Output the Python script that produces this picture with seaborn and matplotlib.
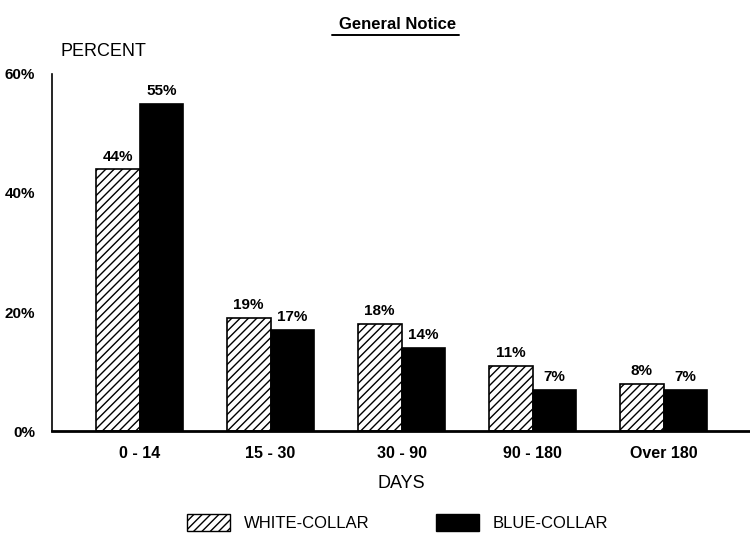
import pandas as pd
import seaborn as sns
import matplotlib.pyplot as plt
from matplotlib.patches import Patch

# Values
days = ['0 - 14', '15 - 30', '30 - 90', '90 - 180', 'Over 180']
white_collar = [44, 19, 18, 11, 8]
blue_collar = [55, 17, 14, 7, 7]
groups = ['WHITE-COLLAR', 'BLUE-COLLAR']

dataframe = pd.DataFrame({
    'Days': days * 2,
    'Group': [groups[0]] * len(days) + [groups[1]] * len(days),
    'Percent': white_collar + blue_collar,
})

sns.set_theme(style="white")
plt.rcParams['font.family'] = ['Liberation Sans', 'DejaVu Sans']
plt.rcParams['text.color'] = 'black'
plt.rcParams['xtick.color'] = 'black'
plt.rcParams['ytick.color'] = 'black'
plt.rcParams['axes.labelcolor'] = 'black'

fig = plt.figure(figsize=(7.5, 5.39), dpi=100)
ax = fig.add_axes([0.069, 0.2, 0.931, 0.663])

sns.barplot(x='Days', y='Percent', hue='Group', data=dataframe, ax=ax,
            palette={groups[0]: 'white', groups[1]: 'black'},
            edgecolor='black', linewidth=1.2, width=0.67, legend=False)

for bar in ax.containers[0]:
    bar.set_hatch('////')
for container in ax.containers:
    ax.bar_label(container, fmt='%d%%', padding=4, fontsize=11, fontweight='bold')

ax.set_xlim(-0.67, 4.66)
ax.set_ylim(0, 60)
ax.set_yticks([0, 20, 40, 60])
ax.set_yticklabels(['0%', '20%', '40%', '60%'], fontsize=11, fontweight='bold')
ax.tick_params(axis='x', labelsize=11.5, pad=5)
ax.tick_params(axis='y', pad=6)
for lab in ax.get_xticklabels():
    lab.set_fontweight('bold')
ax.set_xlabel('DAYS', fontsize=13, labelpad=10)
ax.set_ylabel('')
sns.despine(ax=ax)
ax.spines['left'].set_color('black')
ax.spines['left'].set_linewidth(1.2)
ax.spines['bottom'].set_color('black')
ax.spines['bottom'].set_linewidth(2)

ax.text(0.012, 1.04, 'PERCENT', transform=ax.transAxes, fontsize=13, ha='left', va='bottom')
fig.text(0.53, 0.955, 'General Notice', ha='center', va='center', fontsize=12, fontweight='bold')
fig.add_artist(plt.Line2D([0.443, 0.612], [0.935, 0.935], color='black', linewidth=1.4))

handles = [Patch(facecolor='white', edgecolor='black', hatch='////'),
           Patch(facecolor='black', edgecolor='black')]
fig.legend(handles, groups, loc='center', bbox_to_anchor=(0.53, 0.03), ncol=2,
           frameon=False, fontsize=12, handlelength=2.6, handleheight=1.2, columnspacing=4)

fig.savefig('out.png', dpi=100)
